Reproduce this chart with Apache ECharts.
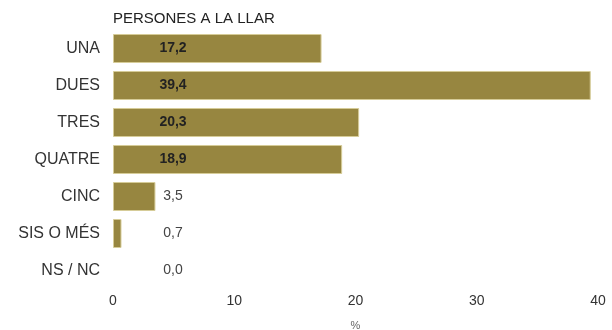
<!DOCTYPE html>
<html><head><meta charset="utf-8">
<script src="https://cdn.jsdelivr.net/npm/echarts@6/dist/echarts.min.js"></script>
<style>html,body{margin:0;padding:0;background:#fff}#c{width:612px;height:330px}</style>
</head><body><div id="c"></div>
<script>
const title = 'PERSONES A LA LLAR';
const categories = ['UNA', 'DUES', 'TRES', 'QUATRE', 'CINC', 'SIS O MÉS', 'NS / NC'];
const values = [17.2, 39.4, 20.3, 18.9, 3.5, 0.7, 0.0];
const axisName = '%';
const xMin = 0, xMax = 40, xInterval = 10;

const chart = echarts.init(document.getElementById('c'));
const fmt = v => v.toFixed(1).replace('.', ',');
chart.setOption({
  animation: false,
  title: { text: title, left: 108, top: 6, textStyle: { fontFamily: 'Liberation Sans', fontSize: 15, fontWeight: 'normal', color: '#222' } },
  grid: { left: 113, right: 14, top: 30, bottom: 41, containLabel: false, outerBoundsMode: 'none' },
  xAxis: {
    type: 'value', min: xMin, max: xMax, interval: xInterval,
    name: axisName, nameLocation: 'middle', nameGap: 31,
    nameTextStyle: { fontFamily: 'Liberation Sans', fontSize: 11, color: '#666' },
    axisLine: { show: false }, axisTick: { show: false }, splitLine: { show: false },
    axisLabel: { fontFamily: 'Liberation Sans', fontSize: 14, color: '#333', margin: 5 }
  },
  yAxis: {
    type: 'category', data: categories, inverse: true,
    axisLine: { show: false }, axisTick: { show: false },
    axisLabel: { fontFamily: 'Liberation Sans', fontSize: 16, color: '#333', margin: 13 }
  },
  series: [{
    type: 'bar',
    data: values.map(v => ({
      value: v,
      itemStyle: { borderWidth: v > 0 ? 1 : 0 },
      label: { fontWeight: v > 10 ? 'bold' : 'normal', color: v > 10 ? '#222' : '#444' }
    })),
    barCategoryGap: '21.6%',
    itemStyle: { color: '#978640', borderColor: '#d6cc98', borderWidth: 1 },
    label: { show: true, position: [60, '50%'], align: 'center', verticalAlign: 'middle',
      fontFamily: 'Liberation Sans', fontSize: 14, formatter: p => fmt(p.value) }
  }]
});
</script></body></html>
